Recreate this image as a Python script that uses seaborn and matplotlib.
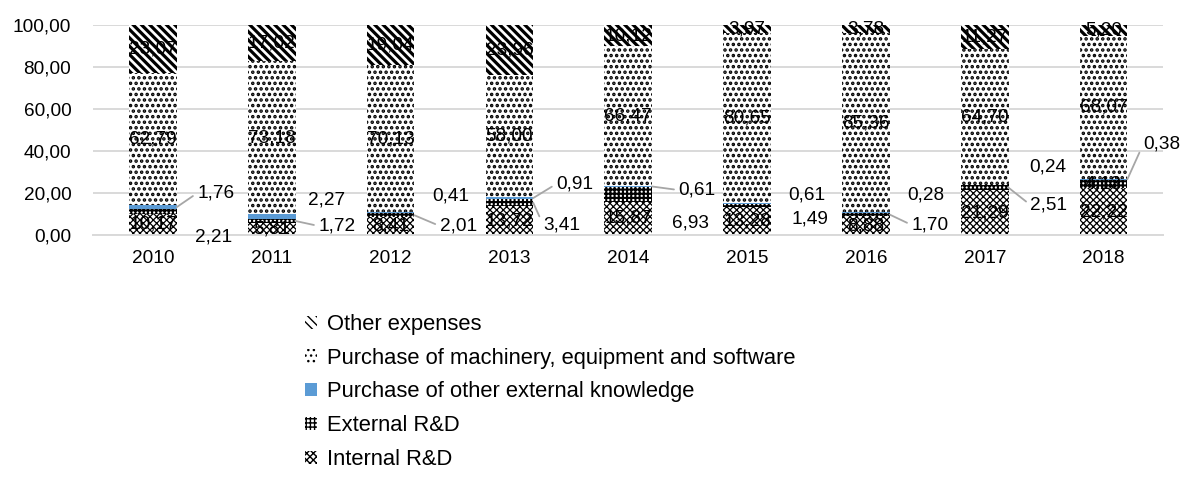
import numpy as np
import pandas as pd
import matplotlib
matplotlib.use("Agg")
import matplotlib.pyplot as plt
import seaborn as sns

# ---------------- data ----------------
years = ["2010", "2011", "2012", "2013", "2014", "2015", "2016", "2017", "2018"]
internal_rd = [10.17, 5.81, 8.41, 13.72, 15.87, 13.28, 8.88, 21.29, 22.22]
external_rd = [2.21, 1.72, 2.01, 3.41, 6.93, 1.49, 1.70, 2.51, 4.13]
other_knowledge = [1.76, 2.27, 0.41, 0.91, 0.61, 0.61, 0.28, 0.24, 0.38]
machinery = [62.79, 73.18, 70.13, 58.00, 66.47, 80.65, 85.36, 64.70, 68.07]
other_expenses = [23.07, 17.02, 19.04, 23.96, 10.12, 3.97, 3.78, 11.27, 5.20]

series_names = ["Internal R&D", "External R&D", "Purchase of other external knowledge",
                "Purchase of machinery, equipment and software", "Other expenses"]
series_values = [internal_rd, external_rd, other_knowledge, machinery, other_expenses]
y_ticks = [0, 20, 40, 60, 80, 100]

# ---------------- styles ----------------
styles = [
    dict(facecolor="white", hatch="xxxxx", hlw=0.9),
    dict(facecolor="white", hatch="++++", hlw=1.5),
    dict(facecolor="#5B9BD5", hatch=None, hlw=1.0),
    dict(facecolor="white", hatch="...", hlw=1.7),
    dict(facecolor="white", hatch="\\\\\\\\", hlw=2.3),
]
inside = [
    [True] * 9,
    [False] * 8 + [True],
    [False] * 9,
    [True] * 9,
    [True] * 9,
]
ext_pos = [(0.51, -1.0, False), (0.55, 4.3, True), (0.57, 4.3, True), (0.44, 4.8, True),
           (0.52, 5.7, False), (0.53, 7.6, False), (0.54, 4.8, True), (0.54, 14.3, True), None]
kno_pos = [(0.53, 20.0, True), (0.46, 16.7, False), (0.51, 18.6, False), (0.55, 24.3, True),
           (0.58, 21.4, True), (0.50, 19.0, False), (0.50, 19.0, False), (0.53, 32.4, False),
           (0.49, 43.3, True)]
outside_pos = [None, ext_pos, kno_pos, None, None]

sns.set_theme(style="white")
plt.rcParams["font.family"] = ["Liberation Sans", "DejaVu Sans"]
plt.rcParams["hatch.color"] = "black"

fig = plt.figure(figsize=(11.91, 4.93), dpi=100)
ax = fig.add_axes([0.0785, 0.5233, 0.898, 0.426])

bottom = np.zeros(len(years))
containers = []
for name, vals, st in zip(series_names, series_values, styles):
    vals = np.array(vals, dtype=float)
    with plt.rc_context({"hatch.linewidth": st["hlw"]}):
        kws = dict(edgecolor="black", linewidth=0)
        if st["hatch"]:
            kws["hatch"] = st["hatch"]
        sns.barplot(x=years, y=vals, ax=ax, bottom=bottom.copy(), width=0.4,
                    color=st["facecolor"], saturation=1, errorbar=None, **kws)
    cont = ax.containers[-1]
    for p in cont:
        if hasattr(p, "set_hatch_linewidth"):
            p.set_hatch_linewidth(st["hlw"])
    containers.append(cont)
    bottom = bottom + vals
if ax.get_legend() is not None:
    ax.get_legend().remove()

# ---------------- labels ----------------
fs_lab = 13.7
bottom = np.zeros(len(years))
for si, vals in enumerate(series_values):
    vals = np.array(vals, dtype=float)
    for i, v in enumerate(vals):
        txt = f"{v:.2f}".replace(".", ",")
        mid = bottom[i] + v / 2
        if inside[si][i]:
            ax.text(i, mid, txt, ha="center", va="center", fontsize=fs_lab, color="black")
        else:
            dx, yy, leader = outside_pos[si][i]
            if leader:
                ax.annotate(txt, xy=(i + 0.2, mid), xytext=(i + dx, yy),
                            ha="center", va="center", fontsize=fs_lab, color="black",
                            arrowprops=dict(arrowstyle="-", color="#A6A6A6", lw=1.3,
                                            shrinkA=1, shrinkB=0, relpos=(0, 0.5)))
            else:
                ax.text(i + dx, yy, txt, ha="center", va="center", fontsize=fs_lab,
                        color="black")
    bottom = bottom + vals

# ---------------- axes ----------------
ax.set_xlim(-0.5, len(years) - 0.5)
ax.set_ylim(0, 100)
ax.set_yticks(y_ticks)
ax.set_yticklabels([f"{t:.2f}".replace(".", ",") for t in y_ticks])
ax.set_xlabel("")
ax.set_ylabel("")
ax.yaxis.grid(True, color="#D9D9D9", lw=1.4)
ax.xaxis.grid(False)
ax.set_axisbelow(True)
for s in ["left", "right", "top"]:
    ax.spines[s].set_visible(False)
ax.spines["bottom"].set_color("#D9D9D9")
ax.spines["bottom"].set_linewidth(1.4)
ax.tick_params(axis="y", length=0, pad=16, labelsize=13.7, labelcolor="black")
ax.tick_params(axis="x", length=0, pad=11, labelsize=13.7, labelcolor="black")
for t in ax.texts:
    t.set_clip_on(False)

leg = fig.legend(containers[::-1], series_names[::-1], loc="upper left",
                 bbox_to_anchor=(0.256, 0.363), frameon=False, fontsize=15.8,
                 handlelength=0.55, handleheight=0.55, handletextpad=0.45,
                 labelspacing=0.58, borderpad=0, borderaxespad=0)
for t in leg.get_texts():
    t.set_color("black")

fig.savefig("out.png", dpi=100)
